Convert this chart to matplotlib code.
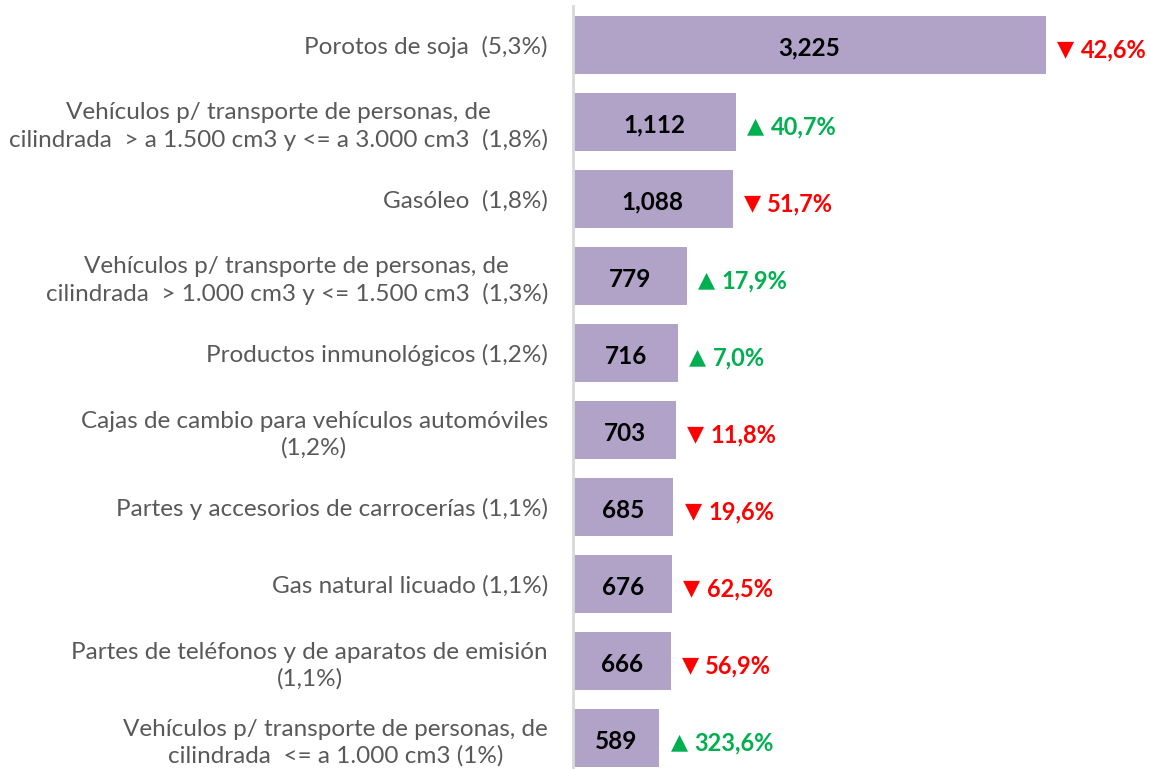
import matplotlib
matplotlib.use("Agg")
import matplotlib.pyplot as plt

categories = [
    "Porotos de soja  (5,3%)",
    "Vehículos p/ transporte de personas, de\ncilindrada  > a 1.500 cm3 y <= a 3.000 cm3  (1,8%)",
    "Gasóleo  (1,8%)",
    "Vehículos p/ transporte de personas, de\ncilindrada  > 1.000 cm3 y <= 1.500 cm3  (1,3%)",
    "Productos inmunológicos (1,2%)",
    "Cajas de cambio para vehículos automóviles\n(1,2%)",
    "Partes y accesorios de carrocerías (1,1%)",
    "Gas natural licuado (1,1%)",
    "Partes de teléfonos y de aparatos de emisión\n(1,1%)",
    "Vehículos p/ transporte de personas, de\ncilindrada  <= a 1.000 cm3 (1%)",
]
values = [3225, 1112, 1088, 779, 716, 703, 685, 676, 666, 589]
value_labels = ["3,225", "1,112", "1,088", "779", "716", "703", "685", "676", "666", "589"]
changes = ["42,6%", "40,7%", "51,7%", "17,9%", "7,0%", "11,8%", "19,6%", "62,5%", "56,9%", "323,6%"]
directions = ["down", "up", "down", "up", "up", "down", "down", "down", "down", "up"]

W, H = 1150, 769
fig = plt.figure(figsize=(W / 100, H / 100), dpi=100)
ax_left = 573 / W
ax_top = 1 - 6.5 / H
ax_bottom = 1 - 776.5 / H
ax = fig.add_axes([ax_left, ax_bottom, 1 - ax_left, ax_top - ax_bottom])

bar_color = "#B1A2C8"
ys = list(range(len(values)))
ax.barh(ys, values, height=0.755, color=bar_color, zorder=2)
ax.set_ylim(len(values) - 0.5, -0.5)
ax.set_xlim(0, 577 / (473 / 3225))

fam = ["Lato", "DejaVu Sans"]
for y, v, lab in zip(ys, values, value_labels):
    ax.text(v / 2, y + 0.04, lab, ha="center", va="center", fontsize=17.5,
            fontweight="bold", color="black", family=fam, zorder=3)

for y, v, ch, d in zip(ys, values, changes, directions):
    col = "#FF0000" if d == "down" else "#00B050"
    sym = "▼" if d == "down" else "▲"
    ax.annotate(sym, xy=(v, y + 0.06), xytext=(8, 0), textcoords="offset points",
                ha="left", va="center", fontsize=16, color=col,
                family="DejaVu Sans")
    ax.annotate(ch, xy=(v, y + 0.07), xytext=(25, 0), textcoords="offset points",
                ha="left", va="center", fontsize=17, fontweight="bold", color=col,
                family=fam)

ax.set_yticks(ys)
ax.set_yticklabels(categories, fontsize=17.5, color="#595959", family=fam,
                   multialignment="center", linespacing=1.28)
ax.tick_params(axis="y", length=0, pad=18)
ax.set_xticks([])
for s in ["top", "right", "bottom"]:
    ax.spines[s].set_visible(False)
ax.spines["left"].set_color("#D9D9D9")
ax.spines["left"].set_linewidth(2)

fig.savefig("out.png", dpi=100)
